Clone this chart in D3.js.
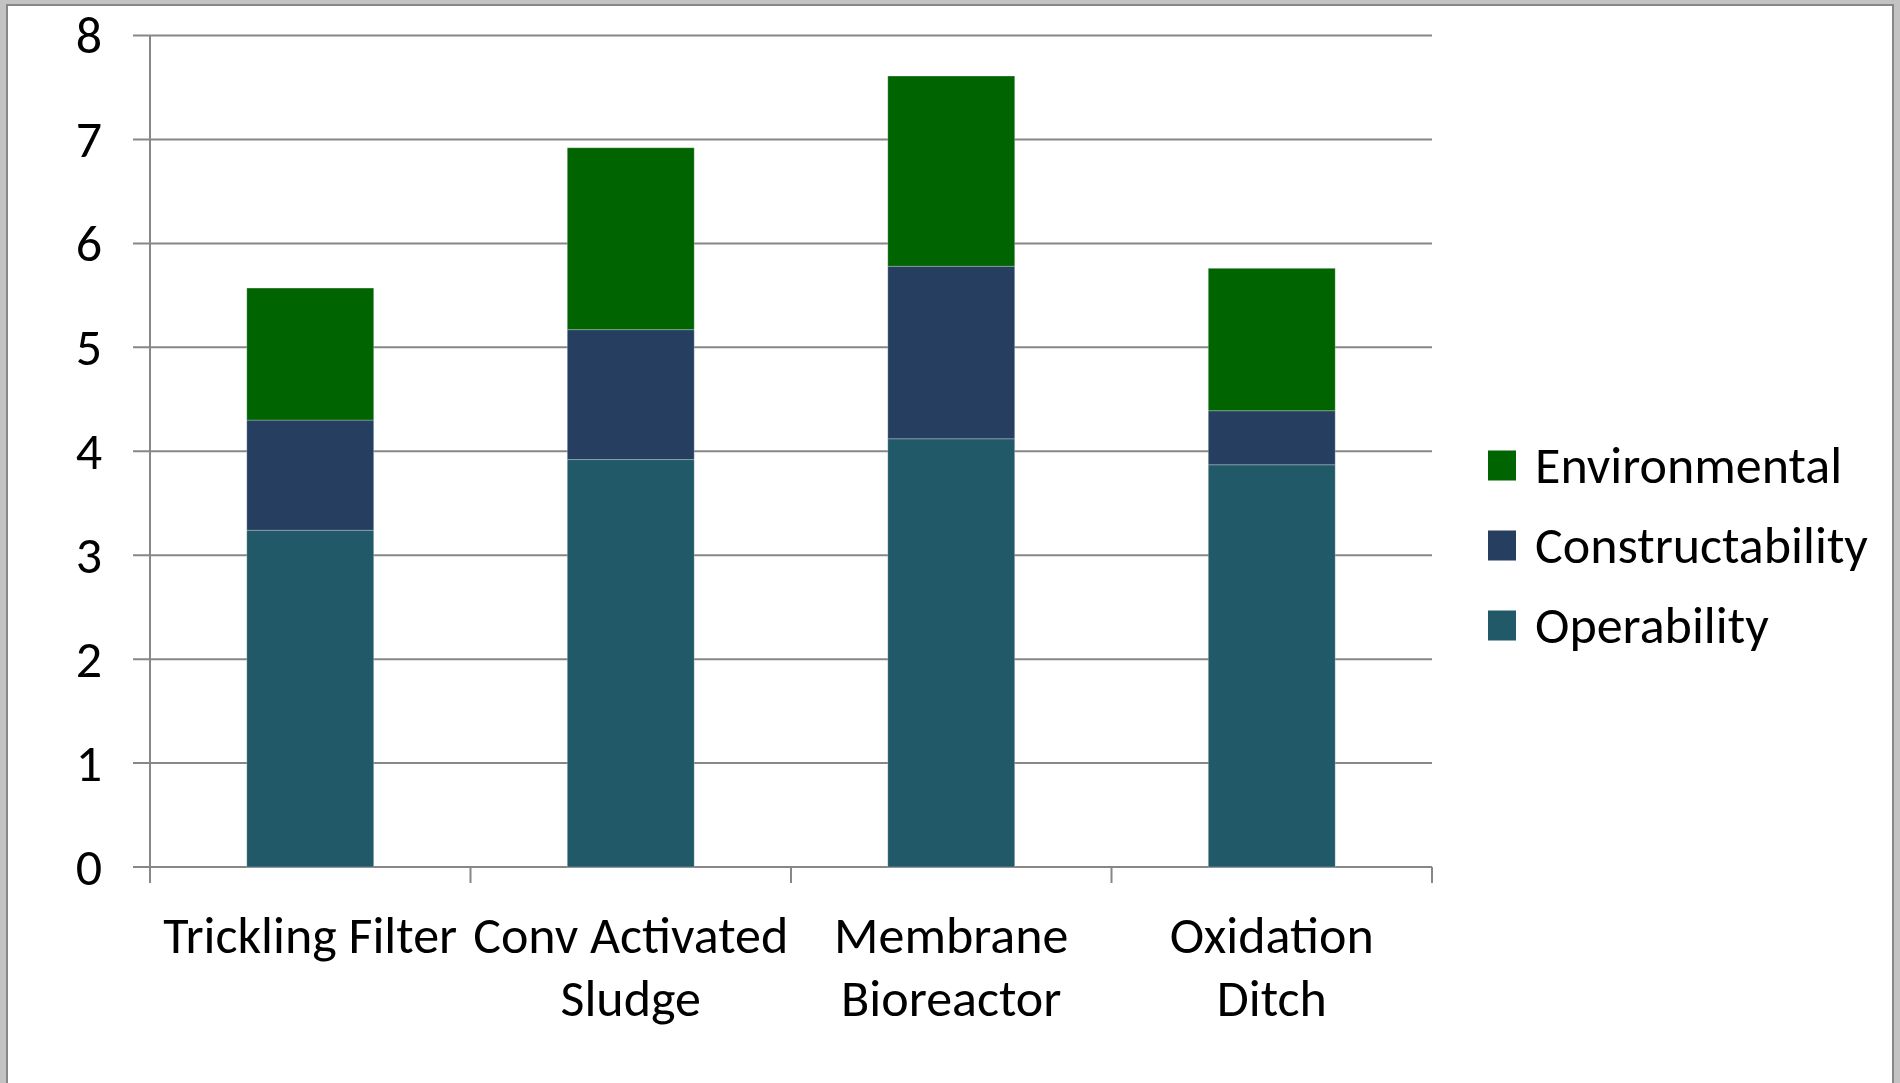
<!DOCTYPE html>
<html>
<head>
<meta charset="utf-8">
<script src="https://cdn.jsdelivr.net/npm/d3@7"></script>
<style>
  html, body { margin: 0; padding: 0; background: #c3c3c3; }
  svg { display: block; }
  text { font-family: Carlito, Calibri, Lato, sans-serif; fill: #000; }
</style>
</head>
<body>
<svg></svg>
<script>
const width = 1900;
const height = 1083;

// -----------------------------
// DATA
// -----------------------------
const categories = ["Trickling Filter", "Conv Activated Sludge", "Membrane Bioreactor", "Oxidation Ditch"];
const categoryLines = [["Trickling Filter"], ["Conv Activated", "Sludge"], ["Membrane", "Bioreactor"], ["Oxidation", "Ditch"]];
const seriesNames = ["Operability", "Constructability", "Environmental"];
const operability = [3.24, 3.92, 4.12, 3.87];
const constructability = [1.06, 1.25, 1.66, 0.52];
const environmental = [1.27, 1.75, 1.83, 1.37];
const yTicks = [0, 1, 2, 3, 4, 5, 6, 7, 8];
const colors = { Operability: "#215968", Constructability: "#263f61", Environmental: "#006400" };

const rows = categories.map((c, i) => ({
  category: c,
  Operability: operability[i],
  Constructability: constructability[i],
  Environmental: environmental[i]
}));

const fontSize = 52;

const svg = d3.select("svg")
  .attr("width", width)
  .attr("height", height);

// frame
svg.append("rect")
  .attr("x", 7).attr("y", 5)
  .attr("width", 1886).attr("height", 1100)
  .attr("fill", "#fff")
  .attr("stroke", "#878787")
  .attr("stroke-width", 2);

// -----------------------------
// SCALES
// -----------------------------
const x = d3.scaleBand()
  .domain(categories)
  .range([150, 1432])
  .paddingInner(0.604)
  .paddingOuter(0.302);

const y = d3.scaleLinear()
  .domain([0, 8])
  .range([867, 35.5]);

// -----------------------------
// GRID
// -----------------------------
svg.append("g")
  .selectAll("line")
  .data(yTicks)
  .join("line")
  .attr("x1", 133)
  .attr("x2", 1432)
  .attr("y1", d => y(d))
  .attr("y2", d => y(d))
  .attr("stroke", "#878787")
  .attr("stroke-width", 2);

// y axis line
svg.append("line")
  .attr("x1", 150).attr("x2", 150)
  .attr("y1", y(8)).attr("y2", y(0) + 16)
  .attr("stroke", "#878787")
  .attr("stroke-width", 2);

// x ticks between categories
const tickXs = categories.map(c => x(c) + x.bandwidth() / 2 - x.step() / 2)
  .concat([x(categories[categories.length - 1]) + x.bandwidth() / 2 + x.step() / 2]);

svg.append("g")
  .selectAll("line")
  .data(tickXs)
  .join("line")
  .attr("x1", d => d).attr("x2", d => d)
  .attr("y1", y(0)).attr("y2", y(0) + 16)
  .attr("stroke", "#878787")
  .attr("stroke-width", 2);

// y tick labels
svg.append("g")
  .selectAll("text")
  .data(yTicks)
  .join("text")
  .attr("x", 102)
  .attr("y", d => y(d) + 17.5)
  .attr("text-anchor", "end")
  .attr("font-size", fontSize)
  .text(d => d);

// -----------------------------
// BARS
// -----------------------------
const stacked = d3.stack().keys(seriesNames)(rows);

svg.append("g")
  .selectAll("g")
  .data(stacked)
  .join("g")
  .attr("fill", d => colors[d.key])
  .selectAll("rect")
  .data(d => d)
  .join("rect")
  .attr("x", d => x(d.data.category))
  .attr("width", x.bandwidth())
  .attr("y", d => y(d[1]))
  .attr("height", d => y(d[0]) - y(d[1]))
  .attr("stroke", "rgba(255,255,255,0.25)")
  .attr("stroke-width", 1);

// -----------------------------
// X LABELS
// -----------------------------
const xl = svg.append("g")
  .selectAll("text")
  .data(categories)
  .join("text")
  .attr("text-anchor", "middle")
  .attr("font-size", fontSize)
  .attr("x", d => x(d) + x.bandwidth() / 2)
  .attr("y", 953);

xl.selectAll("tspan")
  .data((d, i) => categoryLines[i])
  .join("tspan")
  .attr("x", function() { return d3.select(this.parentNode).attr("x"); })
  .attr("dy", (d, i) => i === 0 ? 0 : 63)
  .text(d => d);

// -----------------------------
// LEGEND
// -----------------------------
const legendItems = seriesNames.slice().reverse();
const legend = svg.append("g")
  .selectAll("g")
  .data(legendItems)
  .join("g")
  .attr("transform", (d, i) => `translate(1488, ${465.5 + i * 80})`);

legend.append("rect")
  .attr("x", 0).attr("y", -15)
  .attr("width", 28).attr("height", 30)
  .attr("fill", d => colors[d]);

legend.append("text")
  .attr("x", 47)
  .attr("y", 17)
  .attr("font-size", fontSize)
  .text(d => d);
</script>
</body>
</html>
